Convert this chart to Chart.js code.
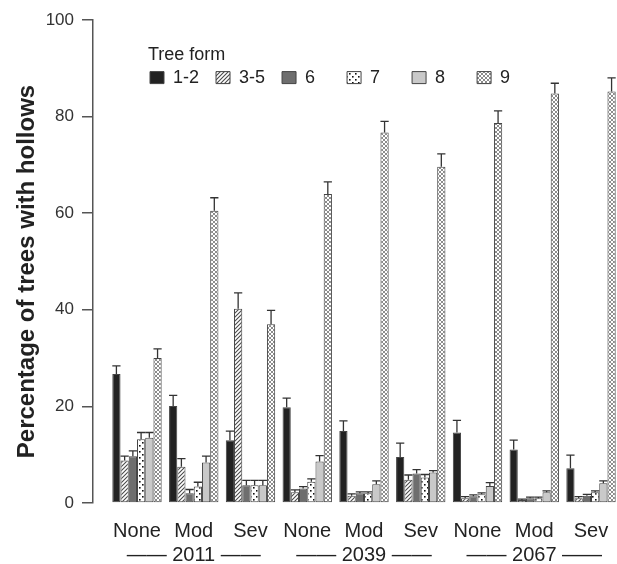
<!DOCTYPE html>
<html>
<head>
<meta charset="utf-8">
<script src="https://cdn.jsdelivr.net/npm/chart.js@4.4.1/dist/chart.umd.min.js"></script>
<style>
  html, body { margin: 0; padding: 0; background: #fff; }
  canvas { display: block; }
</style>
</head>
<body>
<canvas id="chart" width="617" height="564"></canvas>
<script>
// treatments (x categories), with the year under every middle one
var groups = ['None', 'Mod', 'Sev', 'None', 'Mod', 'Sev', 'None', 'Mod', 'Sev'];
var years = ['2011', '2039', '2067'];
var forms = ['1-2', '3-5', '6', '7', '8', '9'];
var yTicks = [0, 20, 40, 60, 80, 100];

// percentage of trees with hollows, per tree form, and the upper error
var form12 = [26.7, 20.1, 13.0, 19.8, 14.9, 9.5, 14.6, 11.1, 7.2];
var err12 = [1.7, 2.2, 1.9, 1.9, 2.1, 2.9, 2.5, 1.9, 2.7];
var form35 = [8.8, 7.5, 40.2, 2.2, 1.5, 4.8, 1.0, 0.6, 1.0];
var err35 = [0.9, 1.7, 3.3, 0.5, 0.4, 1.0, 0.3, 0.2, 0.3];
var form6 = [9.7, 2.0, 3.7, 3.0, 2.0, 6.1, 1.4, 1.0, 1.5];
var err6 = [1.1, 0.8, 1.0, 0.4, 0.3, 0.8, 0.3, 0.2, 0.3];
var form7 = [13.2, 3.4, 3.7, 4.4, 2.0, 5.3, 1.8, 1.0, 2.2];
var err7 = [1.4, 0.9, 1.0, 0.6, 0.3, 0.6, 0.3, 0.2, 0.3];
var form8 = [13.5, 8.4, 3.7, 8.6, 3.9, 6.3, 3.5, 2.2, 4.1];
var err8 = [1.1, 1.3, 1.0, 1.2, 0.7, 0.4, 0.7, 0.3, 0.5];
var form9 = [30.0, 60.5, 37.0, 64.0, 76.7, 69.6, 78.7, 84.8, 85.2];
var err9 = [1.9, 2.7, 2.9, 2.5, 2.3, 2.7, 2.5, 2.1, 2.8];

var FONT = '"Liberation Sans", Arial, Helvetica, sans-serif';

// small tiles for the black & white fills
function makePattern(kind) {
    var c = document.createElement('canvas');
    var s = kind == 'dots' ? 6 : 4;
    c.width = s;
    c.height = s;
    var g = c.getContext('2d');
    g.fillStyle = '#fff';
    g.fillRect(0, 0, s, s);
    if (kind == 'hatch') {
        g.strokeStyle = '#4a4a4a';
        g.lineWidth = 1.1;
        g.beginPath();
        g.moveTo(0, s); g.lineTo(s, 0);
        g.moveTo(-1, 1); g.lineTo(1, -1);
        g.moveTo(s - 1, s + 1); g.lineTo(s + 1, s - 1);
        g.stroke();
    } else if (kind == 'cross') {
        g.strokeStyle = '#8c8c8c';
        g.lineWidth = 1;
        g.beginPath();
        g.moveTo(0, 0); g.lineTo(s, s);
        g.moveTo(0, s); g.lineTo(s, 0);
        g.stroke();
    } else if (kind == 'dots') {
        g.fillStyle = '#111';
        g.fillRect(1, 1, 1.6, 1.6);
        g.fillRect(4, 4, 1.6, 1.6);
    }
    return g.createPattern(c, 'repeat');
}

var fills = ['#222222', makePattern('hatch'), '#6e6e6e', makePattern('dots'), '#c9c9c9', makePattern('cross')];
var values = [form12, form35, form6, form7, form8, form9];
var errors = [err12, err35, err6, err7, err8, err9];

var datasets = [];
for (let i = 0; i < forms.length; i++) {
    datasets.push({
        label: forms[i],
        data: values[i],
        errors: errors[i],
        backgroundColor: fills[i],
        borderColor: '#444',
        borderWidth: 1,
        borderSkipped: false,
        categoryPercentage: 0.87,
        barPercentage: 1.0
    });
}

// upper error whiskers with a cap
var errorBars = {
    id: 'errorBars',
    afterDatasetsDraw(chart) {
        var ctx = chart.ctx;
        var y = chart.scales.y;
        ctx.save();
        ctx.strokeStyle = '#333';
        ctx.lineWidth = 1.3;
        chart.data.datasets.forEach(function (ds, i) {
            var meta = chart.getDatasetMeta(i);
            meta.data.forEach(function (bar, j) {
                var top = y.getPixelForValue(ds.data[j] + ds.errors[j]);
                var half = bar.width / 2;
                ctx.beginPath();
                ctx.moveTo(bar.x, bar.y);
                ctx.lineTo(bar.x, top);
                ctx.moveTo(bar.x - half, top);
                ctx.lineTo(bar.x + half, top);
                ctx.stroke();
            });
        });
        ctx.restore();
    }
};

// the legend sits inside the plot (takes no room), laid out in one row
var legendPlace = {
    id: 'legendPlace',
    beforeLayout(chart) {
        chart.legend.position = 'chartArea';
    },
    afterLayout(chart) {
        var lg = chart.legend;
        lg.left = chart.chartArea.left + 55;
        lg.right = chart.chartArea.right;
        lg.top = chart.chartArea.top;
    }
};

var labels = [];
for (let i = 0; i < groups.length; i++) labels.push(i);

var ctx = document.getElementById('chart').getContext('2d');
var myChart = new Chart(ctx, {
    type: 'bar',
    data: { labels: labels, datasets: datasets },
    plugins: [errorBars, legendPlace],
    options: {
        responsive: false,
        animation: false,
        layout: { padding: { top: 20, right: 0, bottom: 0, left: 0 } },
        plugins: {
            tooltip: { enabled: false },
            legend: {
                position: 'top',
                align: 'start',
                title: {
                    display: true,
                    position: 'start',
                    text: 'Tree form',
                    color: '#222',
                    font: { family: FONT, size: 18 },
                    padding: { top: 26, bottom: -1 }
                },
                labels: {
                    color: '#222',
                    font: { family: FONT, size: 18 },
                    boxWidth: 14,
                    boxHeight: 12,
                    padding: 2,
                    generateLabels: function (chart) {
                        var items = Chart.defaults.plugins.legend.labels.generateLabels(chart);
                        var c = chart.ctx;
                        c.save();
                        c.font = '18px ' + FONT;
                        items.forEach(function (it) {
                            // even spacing between the legend entries
                            var t = it.text;
                            while (Math.abs(c.measureText(t + '\u00a0').width - 41) < Math.abs(c.measureText(t).width - 41)) {
                                t += '\u00a0';
                            }
                            it.text = t;
                            it.lineWidth = 1;
                        });
                        c.restore();
                        return items;
                    }
                }
            }
        },
        scales: {
            x: {
                type: 'linear',
                min: -0.775,
                max: 8.458,
                bounds: 'data',
                offset: false,
                afterBuildTicks: function (scale) {
                    scale.ticks = labels.map(function (v) { return { value: v }; });
                },
                afterFit: function (scale) {
                    scale.height = 61;
                    scale.paddingLeft = 0;
                    scale.paddingRight = 0;
                },
                grid: { display: false, drawTicks: false, offset: false },
                border: { display: false },
                ticks: {
                    autoSkip: false,
                    maxRotation: 0,
                    padding: 16,
                    color: '#222',
                    font: { family: FONT, size: 20 },
                    callback: function (v) {
                        if (v % 3 == 1) {
                            return [groups[v], '\u2014\u2014 ' + years[(v - 1) / 3] + ' \u2014\u2014'];
                        }
                        return groups[v];
                    }
                }
            },
            y: {
                min: 0,
                max: 100,
                afterFit: function (scale) { scale.width = 93; },
                afterBuildTicks: function (scale) {
                    scale.ticks = yTicks.map(function (v) { return { value: v }; });
                },
                grid: { drawOnChartArea: false, tickLength: 11, color: '#555', lineWidth: 1.5 },
                border: { color: '#555', width: 1.5 },
                ticks: {
                    padding: 8,
                    color: '#333',
                    font: { family: FONT, size: 17 }
                },
                title: {
                    display: true,
                    text: 'Percentage of trees with hollows\u00a0\u00a0\u00a0',
                    color: '#222',
                    font: { family: FONT, size: 24, weight: 'bold' },
                    padding: { top: 13, bottom: 0 }
                }
            }
        }
    }
});
</script>
</body>
</html>
